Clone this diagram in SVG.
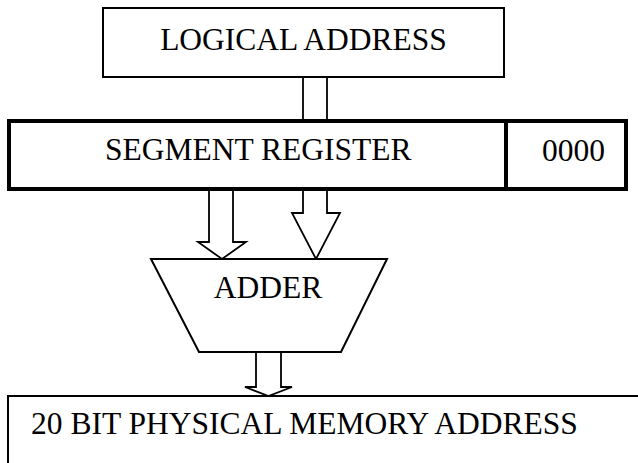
<svg xmlns="http://www.w3.org/2000/svg" width="638" height="463" viewBox="0 0 638 463">
<style>
.t{font-family:"Liberation Serif","Times New Roman",serif;font-size:31.5px;fill:#000}
.s{fill:#fff;stroke:#000;stroke-width:2}
.k{fill:#fff;stroke:#000;stroke-width:4}
.a{fill:#fff;stroke:#000;stroke-width:1.8;stroke-linejoin:miter}
</style>
<rect width="638" height="463" fill="#fff"/>
<g id="connectors">
<path class="a" d="M303,77 V121 M327,77 V121"/>
<path class="a" d="M209,189 V242 H198 L222,259 L246,242 H233 V189"/>
<path class="a" d="M303,189 V213 H292 L316,259 L340,213 H327 V189"/>
<path class="a" d="M256,352 V387 H245 L268.5,396 L292,387 H281 V352"/>
</g>
<g id="logical-address">
<rect class="s" x="103" y="8" width="401" height="69"/>
<text class="t" x="303.5" y="50" text-anchor="middle">LOGICAL ADDRESS</text>
</g>
<g id="segment-register">
<rect class="k" x="9" y="121" width="617" height="68"/>
<line x1="506" y1="121" x2="506" y2="189" stroke="#000" stroke-width="4"/>
<text class="t" x="105" y="160">SEGMENT REGISTER</text>
</g>
<g id="offset">
<text class="t" x="542" y="161">0000</text>
</g>
<g id="adder">
<polygon class="s" points="151,259 387,259 341,352 199,352"/>
<text class="t" x="268" y="298" text-anchor="middle">ADDER</text>
</g>
<g id="physical-address">
<path d="M8,464 V396 H639" fill="none" stroke="#000" stroke-width="2"/>
<text class="t" x="31" y="434">20 BIT PHYSICAL MEMORY ADDRESS</text>
</g>
</svg>
